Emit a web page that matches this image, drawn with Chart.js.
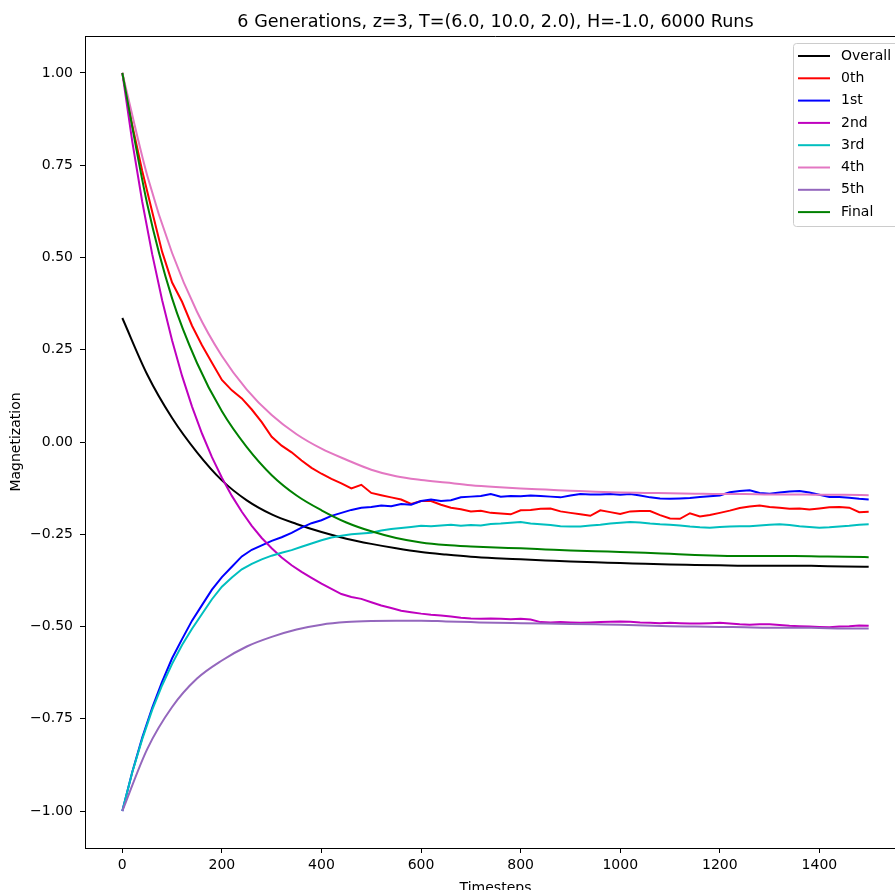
<!DOCTYPE html>
<html>
<head>
<meta charset="utf-8">
<title>Magnetization</title>
<script src="https://cdn.jsdelivr.net/npm/chart.js@4.4.1/dist/chart.umd.min.js"></script>
<style>
  html, body { margin: 0; padding: 0; background: #fff; overflow: hidden; }
  #wrap { width: 895px; height: 890px; overflow: hidden; position: relative; }
  #magChart { display: block; }
</style>
</head>
<body>
<div id="wrap"><canvas id="magChart" width="960" height="920"></canvas></div>
<script>
(function(){
  'use strict';

  var chartTitle = '6 Generations, z=3, T=(6.0, 10.0, 2.0), H=-1.0, 6000 Runs';
  var seriesLabels = ['Overall', '0th', '1st', '2nd', '3rd', '4th', '5th', 'Final'];
  var seriesColors = ['#000000', '#ff0000', '#0000ff', '#bf00bf', '#00bfbf', '#e377c2', '#9467bd', '#008000'];

  var xTicks = [0, 200, 400, 600, 800, 1000, 1200, 1400];
  var yTicks = [-1.0, -0.75, -0.5, -0.25, 0.0, 0.25, 0.5, 0.75, 1.0];

  // smooth averages, sampled every 50 steps
  var coarseSteps = [0, 50, 100, 150, 200, 250, 300, 350, 400, 450, 500, 550, 600, 650, 700,
    750, 800, 850, 900, 950, 1000, 1050, 1100, 1150, 1200, 1250, 1300, 1350, 1400, 1450, 1499];

  var overall = [0.336, 0.183, 0.065, -0.028, -0.104, -0.158, -0.196, -0.222, -0.244, -0.262,
    -0.276, -0.288, -0.298, -0.305, -0.311, -0.315, -0.318, -0.321, -0.324, -0.326, -0.328,
    -0.330, -0.332, -0.333, -0.334, -0.335, -0.335, -0.335, -0.336, -0.337, -0.338];

  var gen4 = [1.000, 0.722, 0.512, 0.353, 0.233, 0.142, 0.073, 0.021, -0.018, -0.048, -0.075,
    -0.093, -0.103, -0.110, -0.117, -0.122, -0.126, -0.129, -0.132, -0.135, -0.137, -0.138,
    -0.139, -0.140, -0.141, -0.141, -0.142, -0.142, -0.143, -0.143, -0.144];

  var gen5 = [-1.000, -0.832, -0.718, -0.641, -0.592, -0.554, -0.528, -0.508, -0.495, -0.488,
    -0.485, -0.484, -0.484, -0.486, -0.488, -0.490, -0.491, -0.492, -0.493, -0.494, -0.495,
    -0.497, -0.499, -0.500, -0.501, -0.502, -0.503, -0.503, -0.504, -0.505, -0.505];

  var finalGen = [1.000, 0.645, 0.389, 0.214, 0.083, -0.014, -0.090, -0.145, -0.185, -0.218,
    -0.242, -0.260, -0.272, -0.279, -0.283, -0.286, -0.288, -0.291, -0.294, -0.296, -0.298,
    -0.300, -0.303, -0.306, -0.308, -0.309, -0.309, -0.309, -0.310, -0.311, -0.312];

  // noisier generations, sampled every 20 steps
  var fineSteps = [0, 20, 40, 60, 80, 100, 120, 140, 160, 180, 200, 220, 240, 260, 280, 300,
    320, 340, 360, 380, 400, 420, 440, 460, 480, 500, 520, 540, 560, 580, 600, 620, 640, 660,
    680, 700, 720, 740, 760, 780, 800, 820, 840, 860, 880, 900, 920, 940, 960, 980, 1000,
    1020, 1040, 1060, 1080, 1100, 1120, 1140, 1160, 1180, 1200, 1220, 1240, 1260, 1280, 1300,
    1320, 1340, 1360, 1380, 1400, 1420, 1440, 1460, 1480, 1499];

  var gen0 = [1.000, 0.858, 0.734, 0.624, 0.515, 0.432, 0.380, 0.315, 0.262, 0.215, 0.168,
    0.140, 0.118, 0.088, 0.054, 0.014, -0.010, -0.028, -0.050, -0.070, -0.086, -0.100, -0.112,
    -0.126, -0.116, -0.138, -0.144, -0.150, -0.156, -0.168, -0.160, -0.160, -0.170, -0.178,
    -0.182, -0.188, -0.186, -0.192, -0.194, -0.196, -0.185, -0.184, -0.181, -0.180, -0.188,
    -0.192, -0.196, -0.200, -0.185, -0.190, -0.195, -0.188, -0.187, -0.187, -0.198, -0.207,
    -0.208, -0.193, -0.202, -0.198, -0.192, -0.186, -0.179, -0.175, -0.172, -0.176, -0.178,
    -0.181, -0.180, -0.183, -0.180, -0.177, -0.176, -0.178, -0.190, -0.189];

  var gen1 = [-1.000, -0.894, -0.801, -0.720, -0.649, -0.586, -0.534, -0.484, -0.442, -0.400,
    -0.366, -0.338, -0.310, -0.292, -0.280, -0.268, -0.258, -0.246, -0.232, -0.220, -0.212,
    -0.200, -0.192, -0.184, -0.178, -0.176, -0.172, -0.174, -0.168, -0.170, -0.160, -0.156,
    -0.160, -0.158, -0.150, -0.148, -0.146, -0.141, -0.148, -0.146, -0.147, -0.145, -0.146,
    -0.148, -0.150, -0.145, -0.141, -0.142, -0.142, -0.141, -0.143, -0.141, -0.145, -0.150,
    -0.153, -0.154, -0.153, -0.152, -0.149, -0.147, -0.145, -0.136, -0.133, -0.131, -0.138,
    -0.140, -0.137, -0.134, -0.133, -0.137, -0.143, -0.149, -0.149, -0.151, -0.154, -0.156];

  var gen2 = [1.000, 0.814, 0.651, 0.509, 0.384, 0.275, 0.179, 0.096, 0.023, -0.041, -0.097,
    -0.146, -0.189, -0.227, -0.260, -0.288, -0.313, -0.334, -0.352, -0.368, -0.384, -0.398,
    -0.412, -0.420, -0.425, -0.434, -0.443, -0.450, -0.457, -0.461, -0.465, -0.468, -0.470,
    -0.473, -0.476, -0.478, -0.479, -0.478, -0.479, -0.480, -0.479, -0.481, -0.488, -0.489,
    -0.488, -0.489, -0.490, -0.489, -0.488, -0.487, -0.486, -0.487, -0.489, -0.490, -0.491,
    -0.490, -0.491, -0.492, -0.492, -0.491, -0.490, -0.492, -0.494, -0.495, -0.494, -0.494,
    -0.496, -0.498, -0.499, -0.500, -0.501, -0.502, -0.500, -0.499, -0.497, -0.498];

  var gen3 = [-1.000, -0.895, -0.805, -0.726, -0.659, -0.601, -0.550, -0.506, -0.466, -0.426,
    -0.392, -0.367, -0.345, -0.330, -0.318, -0.308, -0.300, -0.293, -0.284, -0.275, -0.266,
    -0.259, -0.254, -0.250, -0.248, -0.246, -0.240, -0.236, -0.233, -0.230, -0.227, -0.228,
    -0.226, -0.224, -0.227, -0.225, -0.226, -0.222, -0.221, -0.219, -0.217, -0.221, -0.223,
    -0.225, -0.228, -0.229, -0.229, -0.226, -0.224, -0.221, -0.219, -0.217, -0.218, -0.221,
    -0.223, -0.224, -0.226, -0.229, -0.231, -0.232, -0.230, -0.229, -0.228, -0.228, -0.226,
    -0.224, -0.223, -0.225, -0.228, -0.230, -0.232, -0.231, -0.229, -0.227, -0.224, -0.223];

  var FONT = 'DejaVu Sans';

  function toPoints(steps, values){
    return steps.map(function(x, i){ return { x: x, y: values[i] }; });
  }

  function makeSet(idx, steps, values, smooth){
    return {
      label: seriesLabels[idx],
      data: toPoints(steps, values),
      borderColor: seriesColors[idx],
      backgroundColor: seriesColors[idx],
      borderWidth: 2,
      pointRadius: 0,
      fill: false,
      cubicInterpolationMode: smooth ? 'monotone' : 'default',
      tension: 0,
      // later series sit on top, like the plotting order
      order: seriesLabels.length - idx
    };
  }

  // top and right spines
  var frame = {
    id: 'frame',
    afterDatasetsDraw: function(chart){
      var ctx = chart.ctx, a = chart.chartArea;
      ctx.save();
      ctx.strokeStyle = '#000';
      ctx.lineWidth = 1;
      ctx.beginPath();
      ctx.moveTo(a.left, a.top + 0.5);
      ctx.lineTo(a.right, a.top + 0.5);
      ctx.lineTo(a.right, a.bottom);
      ctx.stroke();
      ctx.restore();
    }
  };

  var titleText = {
    id: 'titleText',
    afterDraw: function(chart){
      var ctx = chart.ctx, a = chart.chartArea;
      ctx.save();
      ctx.fillStyle = '#000';
      ctx.font = '17.6px "' + FONT + '"';
      ctx.textAlign = 'center';
      ctx.textBaseline = 'alphabetic';
      ctx.fillText(chartTitle, (a.left + a.right) / 2, 27);
      ctx.restore();
    }
  };

  // legend boxed inside the upper right corner of the axes
  var legendBox = {
    id: 'legendBox',
    afterDraw: function(chart){
      var ctx = chart.ctx, a = chart.chartArea;
      var sets = chart.data.datasets;
      var w = 108, h = 183, rowH = 22.3;
      var x0 = a.right - 5 - w, y0 = a.top + 7;
      ctx.save();
      ctx.beginPath();
      ctx.roundRect(x0 + 0.5, y0 + 0.5, w, h, 3);
      ctx.fillStyle = 'rgba(255,255,255,0.8)';
      ctx.fill();
      ctx.strokeStyle = '#cccccc';
      ctx.lineWidth = 1;
      ctx.stroke();
      ctx.font = '14px "' + FONT + '"';
      ctx.textBaseline = 'middle';
      ctx.textAlign = 'left';
      sets.forEach(function(ds, i){
        var y = y0 + 13 + i * rowH;
        ctx.strokeStyle = ds.borderColor;
        ctx.lineWidth = 2;
        ctx.beginPath();
        ctx.moveTo(x0 + 5, y);
        ctx.lineTo(x0 + 37, y);
        ctx.stroke();
        ctx.fillStyle = '#000';
        ctx.fillText(ds.label, x0 + 48, y);
      });
      ctx.restore();
    }
  };

  function initChart(){
    if (!window.Chart) return;
    var ctx = document.getElementById('magChart');

    var datasets = [
      makeSet(0, coarseSteps, overall, true),
      makeSet(1, fineSteps, gen0, false),
      makeSet(2, fineSteps, gen1, false),
      makeSet(3, fineSteps, gen2, false),
      makeSet(4, fineSteps, gen3, false),
      makeSet(5, coarseSteps, gen4, true),
      makeSet(6, coarseSteps, gen5, true),
      makeSet(7, coarseSteps, finalGen, true)
    ];

    new Chart(ctx, {
      type: 'line',
      data: { datasets: datasets },
      options: {
        responsive: false,
        animation: false,
        events: [],
        layout: { padding: { top: 36, right: 54, left: 0, bottom: 0 } },
        plugins: {
          legend: { display: false },
          tooltip: { enabled: false },
          title: { display: false }
        },
        scales: {
          x: {
            type: 'linear',
            min: -74.95,
            max: 1573.95,
            afterFit: function(s){ s.height = 72; },
            afterBuildTicks: function(s){
              s.ticks = xTicks.map(function(v){ return { value: v }; });
            },
            grid: { drawOnChartArea: false, drawTicks: true, tickLength: 5, color: '#000', lineWidth: 1 },
            border: { display: true, color: '#000', width: 1 },
            ticks: {
              color: '#000',
              padding: 4,
              maxRotation: 0,
              autoSkip: false,
              font: { family: FONT, size: 14 },
              callback: function(v){ return String(v); }
            },
            title: {
              display: true,
              text: 'Timesteps',
              color: '#000',
              font: { family: FONT, size: 14 },
              padding: { top: 0, bottom: 23 }
            }
          },
          y: {
            type: 'linear',
            min: -1.1,
            max: 1.1,
            afterFit: function(s){ s.width = 85; },
            afterBuildTicks: function(s){
              s.ticks = yTicks.map(function(v){ return { value: v }; });
            },
            grid: { drawOnChartArea: false, drawTicks: true, tickLength: 5, color: '#000', lineWidth: 1 },
            border: { display: true, color: '#000', width: 1 },
            ticks: {
              color: '#000',
              padding: 7,
              autoSkip: false,
              font: { family: FONT, size: 14 },
              callback: function(v){ return v.toFixed(2).replace('-', '\u2212'); }
            },
            title: {
              display: true,
              text: 'Magnetization',
              color: '#000',
              font: { family: FONT, size: 14 },
              padding: { top: 8, bottom: 0 }
            }
          }
        }
      },
      plugins: [frame, titleText, legendBox]
    });
  }

  document.addEventListener('DOMContentLoaded', function(){
    initChart();
  });
})();
</script>
</body>
</html>
